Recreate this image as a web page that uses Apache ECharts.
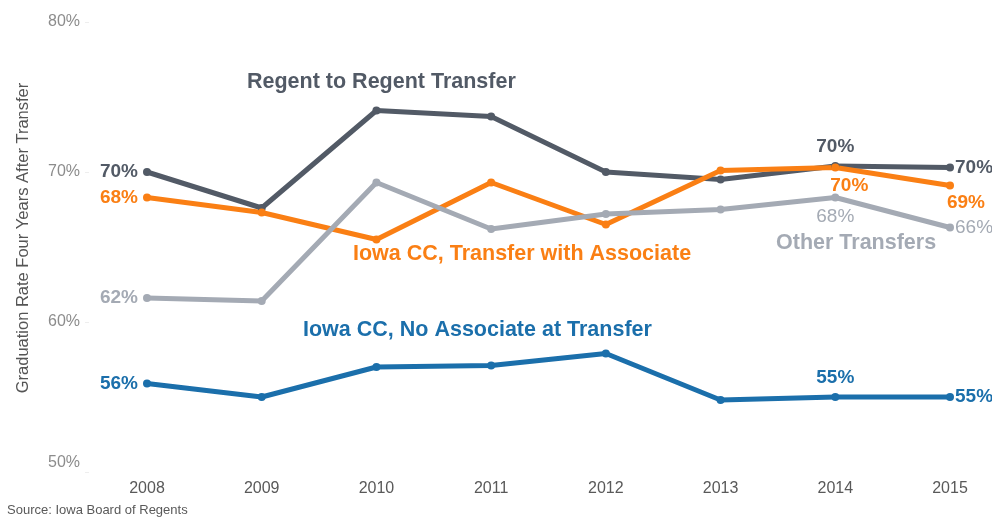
<!DOCTYPE html>
<html>
<head>
<meta charset="utf-8">
<script src="https://cdn.jsdelivr.net/npm/echarts@6/dist/echarts.min.js"></script>
<style>
html,body{margin:0;padding:0;background:#fff;}
#chart{width:992px;height:519px;}
</style>
</head>
<body>
<div id="chart"></div>
<script>
const years = ['2008','2009','2010','2011','2012','2013','2014','2015'];
const regentToRegent = [70.0, 67.6, 74.1, 73.7, 70.0, 69.5, 70.4, 70.3];
const transferWithAssociate = [68.3, 67.3, 65.5, 69.3, 66.5, 70.1, 70.3, 69.1];
const otherTransfers = [61.6, 61.4, 69.3, 66.2, 67.2, 67.5, 68.3, 66.3];
const noAssociate = [55.9, 55.0, 57.0, 57.1, 57.9, 54.8, 55.0, 55.0];
const yTicks = [50, 60, 70, 80];

const FONT = '"Liberation Sans", Arial, sans-serif';
const C_DARK = '#525a66', C_ORANGE = '#fa7f14', C_GRAY = '#a4aab4', C_BLUE = '#1b6fab';

function build(values, color, labelCfg) {
  return values.map((v, i) => {
    const item = { value: v };
    if (labelCfg[i]) {
      item.label = Object.assign({
        show: true,
        formatter: (p) => Math.round(p.value) + '%',
        color: color,
        fontFamily: FONT,
        fontSize: 19,
        fontWeight: 'bold'
      }, labelCfg[i]);
    }
    return item;
  });
}

function lineSeries(name, values, color, labelCfg) {
  return {
    name: name,
    type: 'line',
    data: build(values, color, labelCfg),
    symbol: 'circle',
    symbolSize: 8,
    showAllSymbol: true,
    lineStyle: { color: color, width: 5 },
    itemStyle: { color: color },
    emphasis: { disabled: true },
    silent: true
  };
}

const chart = echarts.init(document.getElementById('chart'), null, { renderer: 'canvas' });
chart.setOption({
  animation: false,
  backgroundColor: '#fff',
  grid: { left: 147, right: 42, top: 22, bottom: 47, containLabel: false },
  xAxis: {
    type: 'category',
    data: years,
    boundaryGap: false,
    axisLine: { show: false },
    axisTick: { show: false },
    axisLabel: { color: '#595959', fontSize: 16, fontFamily: FONT, margin: 9 },
    splitLine: { show: false }
  },
  yAxis: {
    type: 'value',
    min: yTicks[0],
    max: yTicks[yTicks.length - 1],
    interval: 10,
    offset: 58,
    axisLine: { show: false },
    axisTick: { show: true, length: 4, lineStyle: { color: '#eeeeee' } },
    axisLabel: {
      color: '#8c8c8c', fontSize: 16, fontFamily: FONT, margin: 9,
      formatter: (v) => v === yTicks[0] ? '{low|' + v + '%}' : v + '%',
      rich: { low: { color: '#8c8c8c', fontSize: 16, fontFamily: FONT, padding: [0, 0, 18, 0] } }
    },
    splitLine: { show: false }
  },
  series: [
    lineSeries('Regent to Regent Transfer', regentToRegent, C_DARK, {
      0: { position: 'left', distance: 5 },
      6: { position: 'top', distance: 6 },
      7: { position: 'right', distance: 1 }
    }),
    lineSeries('Iowa CC, Transfer with Associate', transferWithAssociate, C_ORANGE, {
      0: { position: 'left', distance: 5 },
      6: { position: 'bottom', distance: 5, offset: [14, 0] },
      7: { position: 'bottom', distance: 4, offset: [16, 0] }
    }),
    lineSeries('Other Transfers', otherTransfers, C_GRAY, {
      0: { position: 'left', distance: 5 },
      6: { position: 'bottom', distance: 6, fontWeight: 'normal' },
      7: { position: 'right', distance: 1, fontWeight: 'normal' }
    }),
    lineSeries('Iowa CC, No Associate at Transfer', noAssociate, C_BLUE, {
      0: { position: 'left', distance: 5 },
      6: { position: 'top', distance: 6 },
      7: { position: 'right', distance: 1 }
    })
  ],
  graphic: [
    { type: 'text', x: 23, y: 238, rotation: Math.PI / 2, style: { text: 'Graduation Rate Four Years After Transfer', fill: '#555555', font: '16.5px ' + FONT, align: 'center', verticalAlign: 'middle' } },
    { type: 'text', left: 247, top: 71, style: { text: 'Regent to Regent Transfer', fill: C_DARK, font: 'bold 21.5px ' + FONT } },
    { type: 'text', left: 353, top: 243, style: { text: 'Iowa CC, Transfer with Associate', fill: C_ORANGE, font: 'bold 21.5px ' + FONT } },
    { type: 'text', left: 776, top: 232, style: { text: 'Other Transfers', fill: C_GRAY, font: 'bold 21.5px ' + FONT } },
    { type: 'text', left: 303, top: 319, style: { text: 'Iowa CC, No Associate at Transfer', fill: C_BLUE, font: 'bold 21.5px ' + FONT } },
    { type: 'text', left: 7, top: 504, style: { text: 'Source: Iowa Board of Regents', fill: '#595959', font: '13px ' + FONT } }
  ]
});
</script>
</body>
</html>
